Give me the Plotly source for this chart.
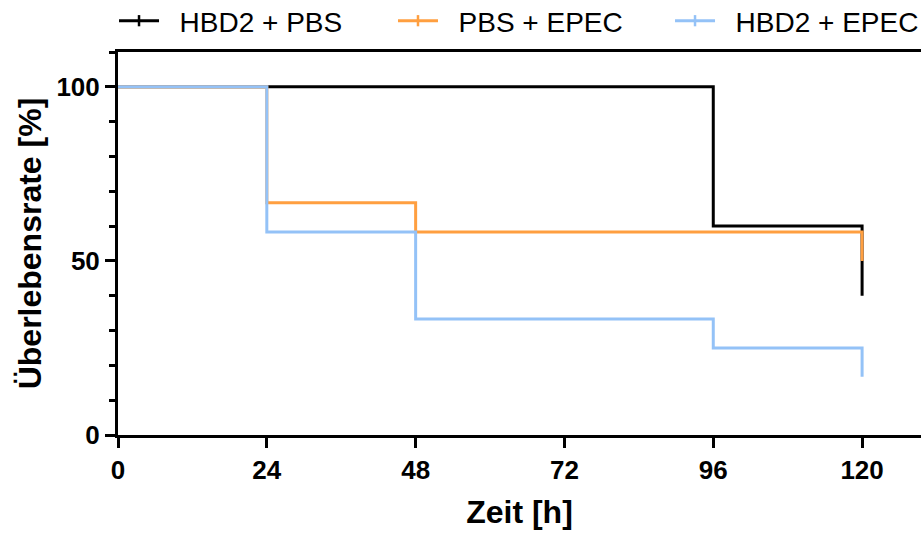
import plotly.graph_objects as go

# Data (Kaplan-Meier survival, step functions)
time_hbd2_pbs = [0, 24, 48, 96, 120, 120]
surv_hbd2_pbs = [100, 100, 100, 60, 60, 40]

time_pbs_epec = [0, 24, 48, 96, 120, 120]
surv_pbs_epec = [100, 66.7, 58.3, 58.3, 58.3, 50]

time_hbd2_epec = [0, 24, 48, 96, 120, 120]
surv_hbd2_epec = [100, 58.3, 33.3, 25, 25, 16.7]

series_names = ["HBD2 + PBS", "PBS + EPEC", "HBD2 + EPEC"]
series_colors = ["#000000", "#FF9F40", "#94C2F7"]
x_ticks = [0, 24, 48, 72, 96, 120]
y_ticks = [0, 50, 100]

fig = go.Figure()
data = [(time_hbd2_pbs, surv_hbd2_pbs), (time_pbs_epec, surv_pbs_epec), (time_hbd2_epec, surv_hbd2_epec)]
for (tx, sy), name, col in zip(data, series_names, series_colors):
    fig.add_trace(go.Scatter(x=tx, y=sy, mode="lines", line=dict(color=col, width=3, shape="hv"),
                             name=name, showlegend=False, hoverinfo="x+y+name"))

legend_ids = ["legend", "legend2", "legend3"]
legend_x = [0.1238, 0.4267, 0.7275]
for name, col, lid in zip(series_names, series_colors, legend_ids):
    fig.add_trace(go.Scatter(x=[None], y=[None], mode="lines+markers", name="\u00a0\u00a0" + name,
                             line=dict(color=col, width=3), legend=lid,
                             marker=dict(symbol="line-ns", size=8, line=dict(color=col, width=2.5))))

legend_common = dict(orientation="h", xref="container", xanchor="left", y=1 - 21 / 533, yref="container",
                     yanchor="middle", font=dict(size=28, family="Arial", color="black"), itemwidth=40,
                     bgcolor="rgba(0,0,0,0)")

fig.update_layout(
    width=921, height=533,
    margin=dict(l=118, r=0, t=52, b=98, autoexpand=False),
    plot_bgcolor="white", paper_bgcolor="white",
    font=dict(family="Arial", color="black"),
    legend=dict(x=legend_x[0], **legend_common),
    legend2=dict(x=legend_x[1], **legend_common),
    legend3=dict(x=legend_x[2], **legend_common),
    xaxis=dict(range=[0, 129.5], tickvals=x_ticks, ticktext=[str(v) for v in x_ticks], automargin=False,
               showgrid=False, zeroline=False, showline=True, linecolor="black", linewidth=3,
               mirror=True, ticks="outside", ticklen=10, tickwidth=3, tickcolor="black",
               tickfont=dict(size=26, weight="bold"),
               title=dict(text="Zeit [h]", font=dict(size=32, weight="bold"), standoff=17)),
    yaxis=dict(range=[0, 110], tickvals=y_ticks, showgrid=False, zeroline=False, showline=True, automargin=False,
               linecolor="black", linewidth=3, ticks="outside", ticklen=10, tickwidth=3, tickcolor="black",
               tickfont=dict(size=26, weight="bold"),
               minor=dict(dtick=10, tick0=0, ticks="outside", ticklen=6, tickwidth=3, tickcolor="black", showgrid=False),
               title=dict(text="Überlebensrate [%]", font=dict(size=32, weight="bold"), standoff=6)),
)

fig.write_html("out.html", config={"displayModeBar": False},
               post_script="document.body.style.margin='0';document.body.style.overflow='hidden';")
